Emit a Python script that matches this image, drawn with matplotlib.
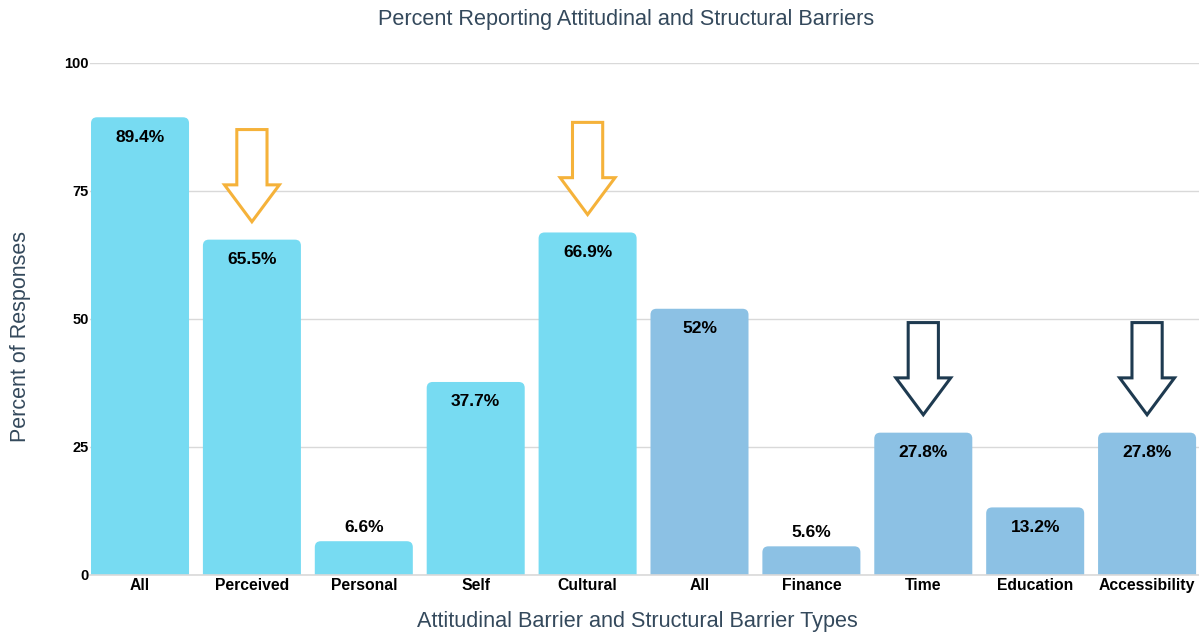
import matplotlib
matplotlib.use('Agg')
import matplotlib.pyplot as plt
from matplotlib.patches import FancyBboxPatch, Polygon

# Dati
categorie = ['All', 'Perceived', 'Personal', 'Self', 'Cultural',
             'All', 'Finance', 'Time', 'Education', 'Accessibility']
percentuali = [89.4, 65.5, 6.6, 37.7, 66.9, 52, 5.6, 27.8, 13.2, 27.8]
gruppo = ['att', 'att', 'att', 'att', 'att',
          'str', 'str', 'str', 'str', 'str']
frecce_arancio = [1, 4]   # barre indicate con freccia arancione
frecce_blu = [7, 9]       # barre indicate con freccia blu scuro
y_ticks = [0, 25, 50, 75, 100]

colori = {'att': '#77DBF2', 'str': '#8CC1E4'}
colore_testo = '#34495C'

fig = plt.figure(figsize=(11.99, 6.34), dpi=100)
ax = fig.add_axes([90 / 1199, 59 / 634, 1109 / 1199, 512 / 634])
ax.set_xlim(-0.447, 9.464)
ax.set_ylim(0, 100)

larghezza = 0.876
px_x = 111.9   # pixel per unita' x
px_y = 5.12    # pixel per unita' y
raggio = 6 / px_x
sotto = 2.0    # la barra parte sotto lo zero: gli angoli bassi vengono tagliati

for i, (v, g) in enumerate(zip(percentuali, gruppo)):
    box = FancyBboxPatch((i - larghezza / 2, -sotto), larghezza, v + sotto,
                         boxstyle=f'round,pad=0,rounding_size={raggio}',
                         mutation_aspect=px_x / px_y,
                         facecolor=colori[g], edgecolor='none', zorder=3)
    ax.add_patch(box)
    etichetta = f'{v:g}%'
    if v < 10:
        ax.text(i, v + 1.2, etichetta, ha='center', va='bottom',
                fontsize=12.5, fontweight='bold', family='Liberation Sans', zorder=5)
    else:
        ax.text(i, v - 3.9, etichetta, ha='center', va='center',
                fontsize=12.5, fontweight='bold', family='Liberation Sans', zorder=5)


def freccia(i, v, colore):
    punta = v + 3.5
    alto = v + 21.5
    inizio_testa = punta + 7.2
    ms = 0.135   # meta' larghezza del fusto
    mt = 0.245   # meta' larghezza della testa
    pts = [(i - ms, alto), (i + ms, alto), (i + ms, inizio_testa),
           (i + mt, inizio_testa), (i, punta), (i - mt, inizio_testa),
           (i - ms, inizio_testa)]
    ax.add_patch(Polygon(pts, closed=True, facecolor='white',
                         edgecolor=colore, linewidth=2.2, zorder=6,
                         joinstyle='miter'))


for i in frecce_arancio:
    freccia(i, percentuali[i], '#F5B23A')
for i in frecce_blu:
    freccia(i, percentuali[i], '#1E3A50')

# Griglia e assi
ax.set_yticks(y_ticks)
ax.yaxis.grid(True, color='#D9D9D9', linewidth=1, zorder=0)
ax.set_axisbelow(True)
for s in ['top', 'right', 'left']:
    ax.spines[s].set_visible(False)
ax.spines['bottom'].set_color('#D9D9D9')
ax.spines['bottom'].set_linewidth(1.2)
ax.spines['bottom'].set_zorder(4)
ax.tick_params(axis='both', length=0)
ax.tick_params(axis='y', pad=1)
ax.tick_params(axis='x', pad=2)
ax.set_xticks(range(len(categorie)))
ax.set_xticklabels(categorie, fontsize=11.3, fontweight='bold', family='Liberation Sans')
for t in ax.get_yticklabels():
    t.set_fontsize(10.5)
    t.set_fontweight('bold')
    t.set_family('Liberation Sans')

fig.text(626 / 1199, 1 - 20 / 634, 'Percent Reporting Attitudinal and Structural Barriers',
         ha='center', va='center', fontsize=15.6, color=colore_testo, family='Liberation Sans')
fig.text(637 / 1199, 1 - 622 / 634, 'Attitudinal Barrier and Structural Barrier Types',
         ha='center', va='center', fontsize=15.6, color=colore_testo, family='Liberation Sans')
fig.text(21 / 1199, 1 - 336 / 634, 'Percent of Responses', rotation=90,
         ha='center', va='center', fontsize=15.5, color=colore_testo, family='Liberation Sans')

fig.savefig('out.png', dpi=100, facecolor='white')
